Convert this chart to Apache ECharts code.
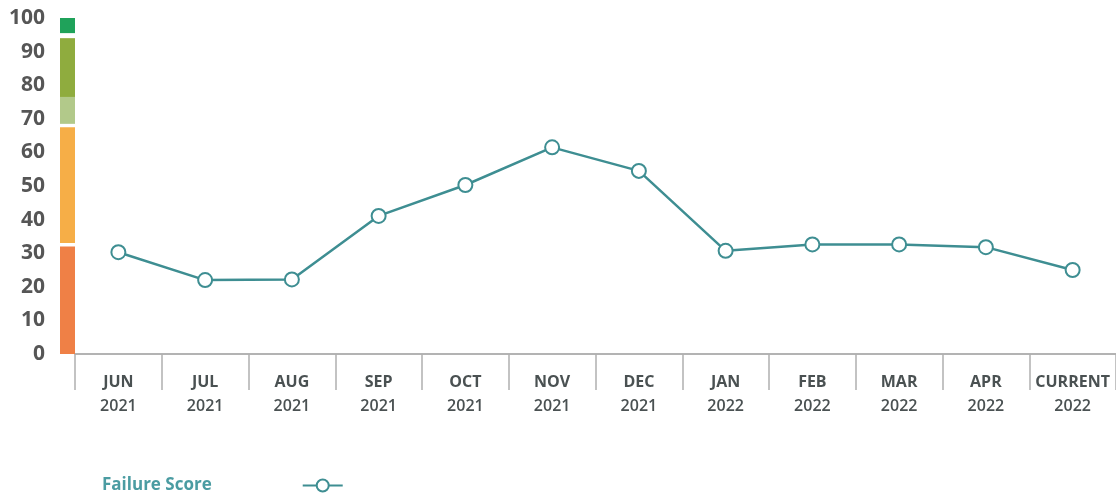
<!DOCTYPE html>
<html>
<head>
<meta charset="utf-8">
<script src="https://cdn.jsdelivr.net/npm/echarts@6/dist/echarts.min.js"></script>
<style>
html,body{margin:0;padding:0;background:#fff;}
#chart{width:1116px;height:498px;}
</style>
</head>
<body>
<div id="chart"></div>
<script>
const months = ['JUN','JUL','AUG','SEP','OCT','NOV','DEC','JAN','FEB','MAR','APR','CURRENT'];
const years = ['2021','2021','2021','2021','2021','2021','2021','2022','2022','2022','2022','2022'];
const failureScore = [30.3, 22, 22.2, 41.1, 50.3, 61.5, 54.5, 30.7, 32.6, 32.6, 31.8, 25];
const yTicks = [0,10,20,30,40,50,60,70,80,90,100];
const bandStarts = [0, 33, 68.5, 76.5, 95.5];
const bandEnds   = [32, 67.5, 76.5, 94, 100];
const bandColors = ['#ef8046', '#f6ae47', '#b2c98a', '#8fac3e', '#1fa25a'];

const categories = months.map((m, i) => m + '\n' + years[i]);

const bandSeries = [];
let prev = 0;
bandStarts.forEach((s, i) => {
  if (s - prev > 0) {
    bandSeries.push({type:'bar', xAxisIndex:1, yAxisIndex:1, stack:'band', barWidth:'100%',
      silent:true, data:[s - prev], itemStyle:{color:'rgba(0,0,0,0)'}});
  }
  bandSeries.push({type:'bar', xAxisIndex:1, yAxisIndex:1, stack:'band', barWidth:'100%',
    silent:true, data:[bandEnds[i] - s], itemStyle:{color:bandColors[i]}});
  prev = bandEnds[i];
});

const chart = echarts.init(document.getElementById('chart'));
chart.setOption({
  animation:false,
  backgroundColor:'#fff',
  grid:[
    {left:75, right:0, top:18, bottom:144},
    {left:60, width:15, top:18, bottom:144}
  ],
  legend:{
    left:97, top:472, align:'right',
    itemWidth:40, itemHeight:15, itemGap:10,
    data:['Failure Score'],
    formatter:function(name){ return '{a|' + name + '}'; },
    textStyle:{fontSize:17, fontWeight:'bold', color:'#4b9ca2', fontFamily:'Open Sans',
      rich:{a:{padding:[0, 86, 0, 0], fontSize:17, fontWeight:'bold', color:'#4b9ca2', fontFamily:'Open Sans'}}}
  },
  xAxis:[
    {type:'category', gridIndex:0, data:categories, boundaryGap:true,
      axisLine:{show:true, lineStyle:{color:'#9a9a9a', width:1.5}},
      axisTick:{show:true, length:36, lineStyle:{color:'#b0b0b0', width:1.5}},
      axisLabel:{margin:16, interval:0, lineHeight:24, fontFamily:'Open Sans', fontSize:16,
        formatter:function(v){ const p = v.split('\n'); return '{m|' + p[0] + '}\n{y|' + p[1] + '}'; },
        rich:{
          m:{fontWeight:'bold', fontSize:16, color:'#4a5152', fontFamily:'Open Sans', lineHeight:24},
          y:{fontWeight:600, fontSize:16, color:'#4a5152', fontFamily:'Open Sans', lineHeight:24}
        }}
    },
    {type:'category', gridIndex:1, data:['scale'], show:false}
  ],
  yAxis:[
    {type:'value', gridIndex:0, min:0, max:100, interval:10,
      axisLine:{show:false}, axisTick:{show:false}, splitLine:{show:false},
      axisLabel:{margin:30, fontSize:21, fontWeight:'bold', color:'#565656', fontFamily:'Open Sans',
        padding:[7,0,0,0],
        formatter:function(v){ return yTicks.indexOf(v) >= 0 ? String(v) : ''; }}
    },
    {type:'value', gridIndex:1, min:0, max:100, show:false}
  ],
  series:[
    ...bandSeries,
    {
      name:'Failure Score', type:'line', xAxisIndex:0, yAxisIndex:0,
      data:failureScore,
      symbol:'emptyCircle', symbolSize:14,
      lineStyle:{color:'#3e8e92', width:2.5},
      itemStyle:{color:'#3e8e92', borderWidth:2, borderColor:'#3e8e92'}
    }
  ]
});
</script>
</body>
</html>
